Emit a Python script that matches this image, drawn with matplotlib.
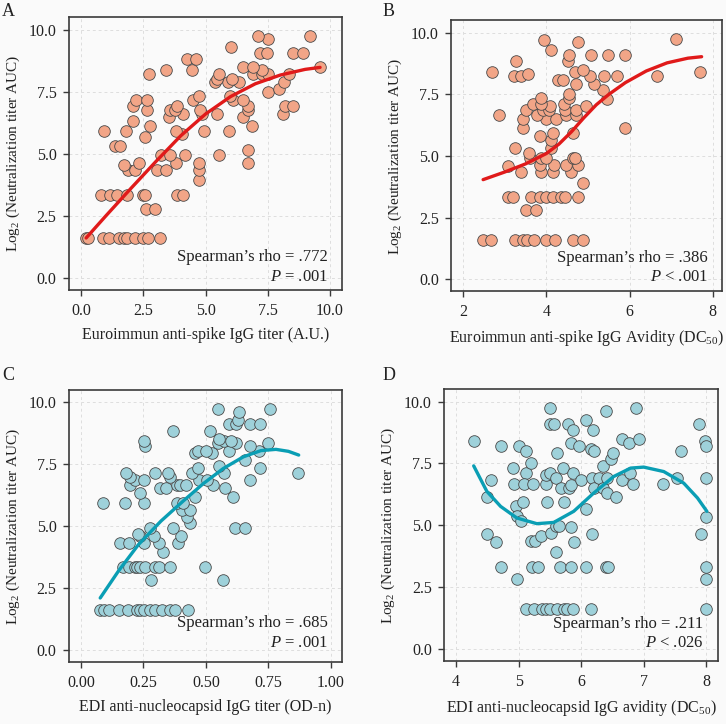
import matplotlib
matplotlib.use("Agg")
import matplotlib.pyplot as plt

plt.rcParams["font.family"] = ["Liberation Serif", "DejaVu Serif"]
plt.rcParams["mathtext.fontset"] = "custom"
plt.rcParams["mathtext.rm"] = "Liberation Serif"
plt.rcParams["mathtext.it"] = "Liberation Serif:italic"

# ---- panel A: Euroimmun anti-spike IgG titer ----
a_x = [0.2, 0.29, 0.87, 1.1, 1.54, 1.74, 1.83, 2.17, 2.48, 2.7, 3.17,
       0.79, 1.16, 1.46, 1.83, 2.48, 2.57, 3.84, 4.08,
       2.61, 2.97, 4.75,
       1.9, 2.17, 3.04, 3.41, 4.75, 1.74, 3.82,
       2.33, 4.75, 6.72, 3.21, 3.57, 4.18, 5.52, 6.72,
       1.37, 1.57, 2.57, 4.04, 0.9, 1.81, 3.82, 4.94, 5.96,
       2.77, 6.85, 2.1, 3.51, 6.52, 4.11, 4.85, 5.45, 8.13,
       2.66, 3.57, 3.78, 4.78, 6.72, 2.1, 3.84, 6.72, 8.19, 8.5,
       2.21, 2.66, 4.51, 6.09, 6.52, 4.75, 5.98, 7.52, 7.93,
       5.38, 5.92, 6.36, 8.15, 5.45, 6.05,
       2.74, 5.52, 6.92, 7.26, 7.52, 8.37, 3.41, 4.44, 7.26,
       6.49, 6.92, 9.6, 4.27, 4.62, 7.19, 7.48, 8.53, 8.93,
       6.01, 7.52, 7.1, 9.2]
a_y = [1.6, 1.6, 1.6, 1.6, 1.6, 1.6, 1.6, 1.6, 1.6, 1.6, 1.6,
       3.32, 3.32, 3.32, 3.32, 3.32, 3.32, 3.32, 3.32,
       2.78, 2.78, 3.92,
       4.33, 4.33, 4.33, 4.33, 4.33, 4.53, 4.62,
       4.64, 4.64, 4.64, 4.93, 4.93, 4.93, 4.93, 5.13,
       5.3, 5.3, 5.67, 5.8, 5.91, 5.91, 5.91, 5.91, 5.91,
       6.1, 6.1, 6.32, 6.48, 6.48, 6.61, 6.61, 6.61, 6.61,
       6.75, 6.75, 6.75, 6.75, 6.75, 6.91, 6.91, 6.91, 6.91, 6.91,
       7.15, 7.15, 7.15, 7.15, 7.15, 7.31, 7.31, 7.49, 7.62,
       7.89, 7.89, 7.89, 7.89, 8.02, 8.02,
       8.23, 8.23, 8.23, 8.23, 8.23, 8.23, 8.36, 8.36, 8.36,
       8.49, 8.49, 8.49, 8.83, 8.83, 9.07, 9.07, 9.07, 9.07,
       9.3, 9.64, 9.73, 9.73]
a_fit_x = [0.2, 1.0, 2.0, 3.0, 4.0, 5.0, 6.0, 7.0, 8.0, 9.0, 9.6]
a_fit_y = [1.6, 2.5, 3.6, 4.68, 5.72, 6.6, 7.3, 7.82, 8.17, 8.4, 8.48]

# ---- panel B: Euroimmun anti-spike IgG avidity ----
b_x = [2.48, 2.67, 3.24, 3.43, 3.54, 3.7, 4.0, 4.2, 4.63, 4.87,
       3.08, 3.19, 3.64, 3.84, 4.0, 4.15, 4.36, 4.44, 4.76,
       3.52, 3.75, 4.87,
       3.4, 3.87, 4.15, 4.59, 3.08,
       3.84, 4.18, 4.48, 4.76,
       3.6, 3.88, 3.99, 4.64, 4.68,
       3.59, 3.24, 4.12, 4.12, 3.84, 4.15, 4.64,
       3.44, 5.89, 3.44, 4.0, 4.24,
       2.87, 3.78, 4.48, 4.71,
       3.52, 3.92, 4.07, 4.44, 4.72,
       4.08, 4.96, 3.68, 3.88, 4.43,
       5.46, 3.87, 4.55, 4.55, 5.37, 4.71, 5.14, 4.28, 4.4,
       3.22, 3.4, 5.04, 5.39, 5.69, 6.65, 3.56,
       2.7, 4.68, 7.7, 4.87, 3.28, 4.52,
       4.55, 5.08, 5.47, 5.89, 4.12, 4.76, 3.94, 7.11]
b_y = [1.59, 1.59, 1.59, 1.59, 1.59, 1.59, 1.59, 1.59, 1.59, 1.59,
       3.32, 3.32, 3.32, 3.32, 3.32, 3.32, 3.32, 3.32, 3.32,
       2.8, 2.8, 3.9,
       4.33, 4.33, 4.33, 4.33, 4.58,
       4.64, 4.64, 4.64, 4.64,
       4.91, 4.91, 4.91, 4.91, 4.91,
       5.11, 5.34, 5.34, 5.65, 5.81, 5.92, 5.92,
       6.15, 6.15, 6.49, 6.49, 6.49,
       6.65, 6.65, 6.65, 6.65,
       6.86, 6.86, 6.86, 6.86, 6.86,
       7.03, 7.03, 7.13, 7.13, 7.13,
       7.3, 7.34, 7.34, 7.5, 7.67, 7.94, 7.94, 8.08, 8.08,
       8.24, 8.24, 8.24, 8.24, 8.24, 8.24, 8.32,
       8.41, 8.41, 8.41, 8.51, 8.84, 8.84,
       9.08, 9.08, 9.08, 9.08, 9.29, 9.62, 9.72, 9.76]
b_fit_x = [2.48, 3.0, 3.5, 4.0, 4.3, 4.6, 4.9, 5.2, 5.5, 5.9, 6.4, 6.9, 7.4, 7.73]
b_fit_y = [4.04, 4.35, 4.68, 5.1, 5.48, 5.98, 6.55, 7.08, 7.5, 7.98, 8.45, 8.78, 8.97, 9.03]

# ---- panel C: EDI anti-nucleocapsid IgG titer ----
c_x = [0.077, 0.091, 0.111, 0.151, 0.19, 0.224, 0.237, 0.251, 0.277, 0.297, 0.324, 0.357, 0.377, 0.428,
       0.28, 0.568,
       0.168, 0.191, 0.217, 0.224, 0.237, 0.257, 0.297, 0.311, 0.357, 0.497,
       0.328, 0.155, 0.191, 0.251, 0.311, 0.387,
       0.237, 0.291, 0.4, 0.227,
       0.277, 0.368, 0.617, 0.657, 0.437, 0.424, 0.404, 0.437,
       0.088, 0.177, 0.251, 0.384, 0.408, 0.457, 0.608, 0.237,
       0.315, 0.341, 0.577, 0.197, 0.384, 0.395, 0.421, 0.528,
       0.217, 0.251, 0.471, 0.504, 0.677, 0.197, 0.357,
       0.181, 0.297, 0.347, 0.444, 0.571, 0.867,
       0.467, 0.717, 0.551, 0.657, 0.457, 0.524,
       0.467, 0.501, 0.591, 0.711, 0.677, 0.257,
       0.547, 0.621, 0.747, 0.251, 0.571, 0.6, 0.551,
       0.368, 0.517, 0.591, 0.621, 0.677, 0.717, 0.627, 0.631, 0.548, 0.757]
c_y = [1.59, 1.59, 1.59, 1.59, 1.59, 1.59, 1.59, 1.59, 1.59, 1.59, 1.59, 1.59, 1.59, 1.59,
       2.83, 2.83,
       3.34, 3.34, 3.34, 3.34, 3.34, 3.34, 3.34, 3.34, 3.34, 3.34,
       3.93, 4.33, 4.33, 4.33, 4.33, 4.33,
       4.58, 4.58, 4.58, 4.68,
       4.94, 4.94, 4.94, 4.94, 5.14, 5.38, 5.65, 5.65,
       5.92, 5.92, 5.92, 5.92, 5.92, 6.16, 6.16, 6.35,
       6.53, 6.53, 6.53, 6.66, 6.66, 6.66, 6.66, 6.66,
       6.86, 6.86, 6.86, 6.86, 6.86, 7.0, 7.0,
       7.13, 7.13, 7.13, 7.13, 7.13, 7.13,
       7.34, 7.34, 7.43, 7.67, 7.94, 7.94,
       8.05, 8.05, 8.05, 8.05, 8.24, 8.24,
       8.34, 8.34, 8.34, 8.45, 8.45, 8.45, 8.5,
       8.86, 8.86, 9.11, 9.11, 9.11, 9.11, 9.29, 9.62, 9.73, 9.73]
c_fit_x = [0.077, 0.15, 0.23, 0.32, 0.41, 0.49, 0.57, 0.65, 0.72, 0.78, 0.83, 0.871]
c_fit_y = [2.09, 3.18, 4.25, 5.2, 6.02, 6.72, 7.33, 7.8, 8.05, 8.1, 8.02, 7.87]

# ---- panel D: EDI anti-nucleocapsid IgG avidity ----
d_x = [4.28, 4.5, 4.56, 4.49, 4.63, 4.71, 4.71, 4.91, 4.93, 4.98, 5.0, 4.96, 4.97,
       5.03, 5.07, 5.11, 5.11, 5.19, 5.08, 5.23, 5.19, 5.26, 5.21, 5.31,
       5.12, 5.24, 5.37, 5.44, 5.5, 5.61, 5.73, 5.77, 5.87, 6.16,
       5.36, 5.43, 5.43, 5.5, 5.46, 5.5, 5.5, 5.57, 5.51, 5.59, 5.64, 5.59,
       5.62, 5.6, 5.66, 5.68, 5.71, 5.73, 5.79, 5.8, 5.83, 5.83, 5.84, 5.87,
       5.87, 5.84, 5.88, 5.96, 5.99, 6.07, 6.08, 6.08, 6.15, 6.19, 6.17, 6.2,
       6.17, 6.2, 6.28, 6.35, 6.35, 6.39, 6.4, 6.43, 6.41, 6.41, 6.47, 6.51,
       6.56, 6.65, 6.65, 6.76, 6.78, 6.83, 6.88, 6.92, 7.31, 7.54, 7.6, 7.88,
       7.98, 7.99, 7.99, 7.99, 7.91, 7.99, 7.99, 7.99]
d_y = [8.41, 6.14, 6.81, 4.66, 4.32, 8.21, 3.31, 7.31, 6.66, 2.8, 8.21, 5.76, 5.36,
       5.15, 5.92, 8.02, 7.11, 7.51, 6.66, 6.66, 4.35, 4.35, 3.31, 3.31,
       1.59, 1.59, 1.59, 1.59, 1.59, 1.59, 1.59, 1.59, 1.59, 1.59,
       4.55, 6.66, 7.04, 7.11, 5.92, 9.73, 9.1, 9.1, 4.68, 4.95, 4.95, 3.9,
       7.91, 6.9, 3.31, 6.5, 7.33, 5.92, 9.1, 6.5, 6.64, 3.31, 8.34, 8.86,
       7.13, 4.91, 4.31, 8.21, 6.81, 5.65, 9.26, 3.31, 8.08, 8.86, 4.66, 8.02,
       6.9, 6.5, 6.9, 7.4, 6.5, 9.64, 3.31, 3.31, 6.3, 6.9, 7.67, 7.91,
       6.14, 8.49, 6.81, 8.34, 7.11, 6.66, 9.76, 8.49, 6.66, 6.9, 8.02, 9.1,
       8.41, 8.21, 6.9, 5.33, 4.66, 3.31, 2.8, 1.59]
d_fit_x = [4.28, 4.49, 4.71, 4.97, 5.29, 5.56, 5.88, 6.2, 6.52, 6.79, 7.0, 7.32, 7.64, 7.86, 8.01]
d_fit_y = [7.4, 6.37, 5.76, 5.29, 5.06, 5.11, 5.56, 6.3, 6.97, 7.31, 7.35, 7.17, 6.7, 6.1, 5.56]

y_ticks = [0.0, 2.5, 5.0, 7.5, 10.0]
y_ticklabels = ["0.0", "2.5", "5.0", "7.5", "10.0"]
ylabel = "Log$_2$ (Neutralization titer AUC)"

SALMON = "#F2A587"
BLUE = "#9ED1DA"
RED = "#E01A1A"
TEAL = "#0A9EB4"
BG = "#FAFAFA"
INK = "#222222"


def draw_panel(ax, x, y, fx, fy, fill, line, xlim, xticks, xticklabels, xlabel,
               rho, pval, text_y):
    ax.set_facecolor(BG)
    ax.grid(True, linestyle=(0, (3, 3)), color="#dedede", linewidth=0.7)
    ax.set_axisbelow(True)
    ax.scatter(x, y, s=70, facecolor=fill, edgecolor="#4a4a4a", linewidths=0.6, zorder=2)
    ax.plot(fx, fy, color=line, linewidth=2.4, solid_capstyle="round",
            solid_joinstyle="round", zorder=3)
    ax.set_xlim(*xlim)
    ax.set_ylim(-0.5, 10.5)
    ax.set_xticks(xticks)
    ax.set_xticklabels(xticklabels)
    ax.set_yticks(y_ticks)
    ax.set_yticklabels(y_ticklabels)
    for s in ax.spines.values():
        s.set_color("#3a3a3a")
        s.set_linewidth(1.2)
    ax.tick_params(direction="out", length=4, width=1, color="#3a3a3a",
                   labelcolor=INK, labelsize=11.5, pad=5)
    ax.set_xlabel(xlabel, fontsize=11.5, color=INK, labelpad=6)
    ax.set_ylabel(ylabel, fontsize=11, color=INK, labelpad=5)
    ax.text(0.948, text_y[0], "Spearman\u2019s rho = " + rho, transform=ax.transAxes,
            ha="right", va="center", fontsize=12, color=INK)
    ax.text(0.948, text_y[1], "$\\mathit{P}$" + pval, transform=ax.transAxes,
            ha="right", va="center", fontsize=12, color=INK)


fig = plt.figure(figsize=(7.26, 7.24), dpi=100, facecolor=BG)

ax_a = fig.add_axes([0.0950, 0.5994, 0.3767, 0.3767])
ax_b = fig.add_axes([0.6219, 0.5974, 0.3726, 0.3743])
ax_c = fig.add_axes([0.0950, 0.0856, 0.3760, 0.3757])
ax_d = fig.add_axes([0.6120, 0.0870, 0.3763, 0.3753])

draw_panel(ax_a, a_x, a_y, a_fit_x, a_fit_y, SALMON, RED, (-0.49, 10.5),
           [0, 2.5, 5, 7.5, 10], ["0.0", "2.5", "5.0", "7.5", "10.0"],
           "Euroimmun anti-spike IgG titer (A.U.)", ".772", " = .001", (0.12, 0.048))
draw_panel(ax_b, b_x, b_y, b_fit_x, b_fit_y, SALMON, RED, (1.72, 8.22),
           [2, 4, 6, 8], ["2", "4", "6", "8"],
           "Euroimmun anti-spike IgG Avidity (DC$_{50}$)", ".386", " < .001", (0.125, 0.055))
draw_panel(ax_c, c_x, c_y, c_fit_x, c_fit_y, BLUE, TEAL, (-0.048, 1.044),
           [0, 0.25, 0.5, 0.75, 1.0], ["0.00", "0.25", "0.50", "0.75", "1.00"],
           "EDI anti-nucleocapsid IgG titer (OD-n)", ".685", " = .001", (0.143, 0.071))
draw_panel(ax_d, d_x, d_y, d_fit_x, d_fit_y, BLUE, TEAL, (3.81, 8.18),
           [4, 5, 6, 7, 8], ["4", "5", "6", "7", "8"],
           "EDI anti-nucleocapsid IgG avidity (DC$_{50}$)", ".211", " < .026", (0.135, 0.065))

for lbl, px, py in [("A", 2, 12), ("B", 383, 12), ("C", 2, 376), ("D", 383, 376)]:
    fig.text(px / 726, 1 - py / 724, lbl, fontsize=13, color=INK, ha="left", va="center")

fig.savefig("out.png", dpi=100, facecolor=BG)
